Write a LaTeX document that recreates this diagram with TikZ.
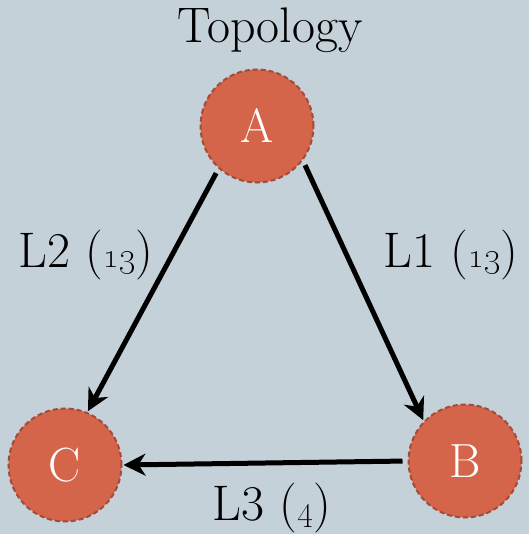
\documentclass[tikz,border=0pt]{standalone}
\usetikzlibrary{arrows.meta}
\definecolor{bgc}{HTML}{C5D1D9}
\definecolor{nodefill}{HTML}{D4644A}
\definecolor{nodeedge}{HTML}{A24B39}
\begin{document}
\begin{tikzpicture}[x=1pt,y=-1pt,
  topo/.style={circle, minimum size=113pt, inner sep=0pt, fill=nodefill, draw=nodeedge, line width=2pt, dash pattern=on 5pt off 3pt, text=white, font=\fontsize{48}{54}\selectfont},
  lbl/.style={font=\fontsize{50}{56}\selectfont, text=black, inner sep=0pt},
  link/.style={line width=5pt, -{Stealth[length=22pt,width=22pt,inset=7pt]}, shorten <=5pt, shorten >=1pt}]
\fill[bgc] (0,0) rectangle (529,534);
\useasboundingbox (0,0) rectangle (529,534);
\node[topo] (A) at (257,126) {A};
\node[topo] (B) at (465,461) {B};
\node[topo] (C) at (65,465) {C};
\node[lbl] (title) at (270,30) {Topology};
\draw[link] (A.323) -- (B.136);
\draw[link] (A.228) -- (C.67);
\draw[link] (B.180) -- (C.0);
\node[lbl] (l2) at (86,255) {L2 (\oldstylenums{13})};
\node[lbl] (l1) at (451,255) {L1 (\oldstylenums{13})};
\node[lbl] (l3) at (272,508) {L3 (\oldstylenums{4})};
\end{tikzpicture}
\end{document}
